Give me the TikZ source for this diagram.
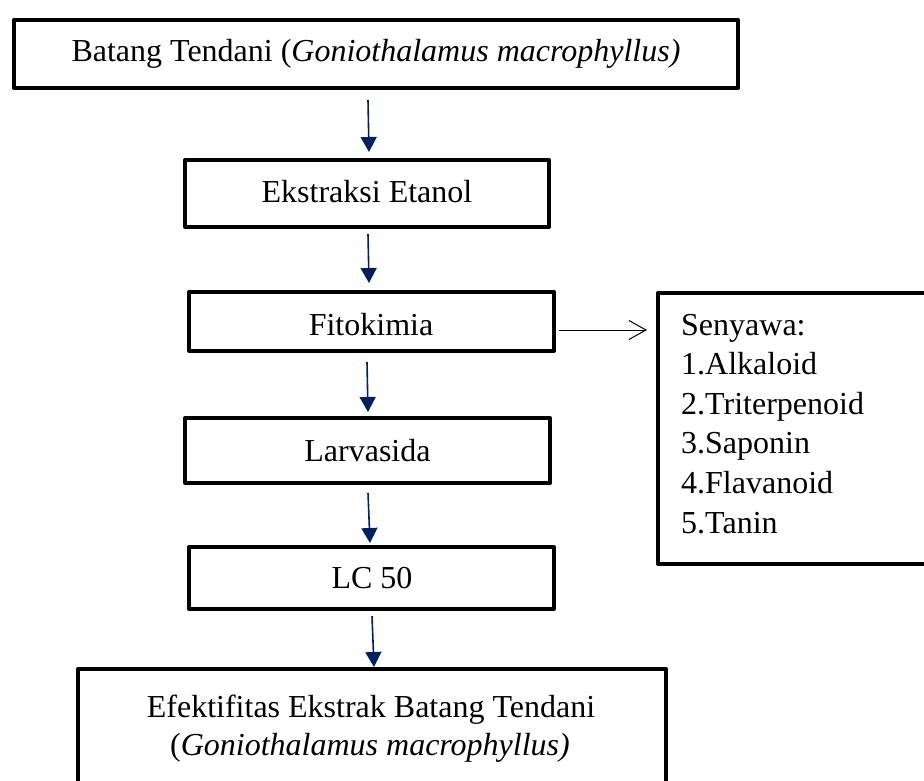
\documentclass[tikz,border=0pt]{standalone}
\usepackage{fontspec}
\setmainfont{Liberation Serif}[Ligatures=CommonOff]
\usetikzlibrary{arrows.meta}
\definecolor{navy}{RGB}{0,32,96}
\begin{document}
\begin{tikzpicture}[x=1pt,y=-1pt,
  box/.style={draw=black, line width=4pt, rectangle, inner sep=0pt, line join=round},
  txt/.style={inner sep=0pt, anchor=base, font=\fontsize{32pt}{39.6pt}\selectfont},
  ltxt/.style={txt, anchor=base west},
  flow/.style={draw=navy, line width=1.6pt, -{Triangle[length=15pt,width=16pt]}},
  side/.style={draw=black, line width=1pt, -{Straight Barb[length=17pt,width=19pt]}}]
\fill[white] (0,0) rectangle (924,781);
\path[use as bounding box, clip] (0,0) rectangle (924,781);

% boxes
\node[box, minimum width=724pt, minimum height=68pt] (top) at (376,54) {};
\node[box, minimum width=364pt, minimum height=67pt] (ekstr) at (367,193.5) {};
\node[box, minimum width=365pt, minimum height=59pt] (fito) at (371.5,321.5) {};
\node[box, minimum width=365pt, minimum height=65pt] (larv) at (367.5,450.5) {};
\node[box, minimum width=365pt, minimum height=62pt] (lc) at (371.5,578) {};
\node[box, minimum width=588pt, minimum height=161pt] (bot) at (372,749.5) {};
\node[box, minimum width=302pt, minimum height=271pt] (sen) at (809,428.5) {};

% texts
\node[txt] (toptext) at (376,62) {Batang Tendani (\textit{Goniothalamus macrophyllus)}};
\node[txt] (ekstrtext) at (367,202) {Ekstraksi Etanol};
\node[txt] (fitotext) at (371,335) {Fitokimia};
\node[txt] (larvtext) at (367.5,461) {Larvasida};
\node[txt] (lctext) at (372,588) {LC 50};
\node[txt] (bottext1) at (371,717) {Efektifitas Ekstrak Batang Tendani};
\node[txt] (bottext2) at (370,755) {(\textit{Goniothalamus macrophyllus)}};

\node[ltxt] (s0) at (681,335) {Senyawa:};
\node[ltxt] (s1) at (681,374.5) {1.Alkaloid};
\node[ltxt] (s2) at (681,414) {2.Triterpenoid};
\node[ltxt] (s3) at (681,453.5) {3.Saponin};
\node[ltxt] (s4) at (681,493) {4.Flavanoid};
\node[ltxt] (s5) at (681,533) {5.Tanin};

% connectors
\draw[flow] ([xshift=-8pt,yshift=-10pt]top.south) -- ([xshift=2pt,yshift=6pt]ekstr.north);
\draw[flow] ([xshift=1pt,yshift=-5pt]ekstr.south) -- ([xshift=-2.5pt,yshift=7pt]fito.north);
\draw[flow] ([xshift=-4.5pt,yshift=-9pt]fito.south) -- ([xshift=0.5pt,yshift=4pt]larv.north);
\draw[flow] ([xshift=0.5pt,yshift=-8pt]larv.south) -- ([xshift=-1.5pt,yshift=2pt]lc.north);
\draw[flow] ([xshift=0.5pt,yshift=-5pt]lc.south) -- ([xshift=2pt,yshift=0pt]bot.north);
\draw[side] ([xshift=3pt,yshift=-8.5pt]fito.east) -- ([xshift=-9pt,yshift=98.5pt]sen.west);
\end{tikzpicture}
\end{document}
